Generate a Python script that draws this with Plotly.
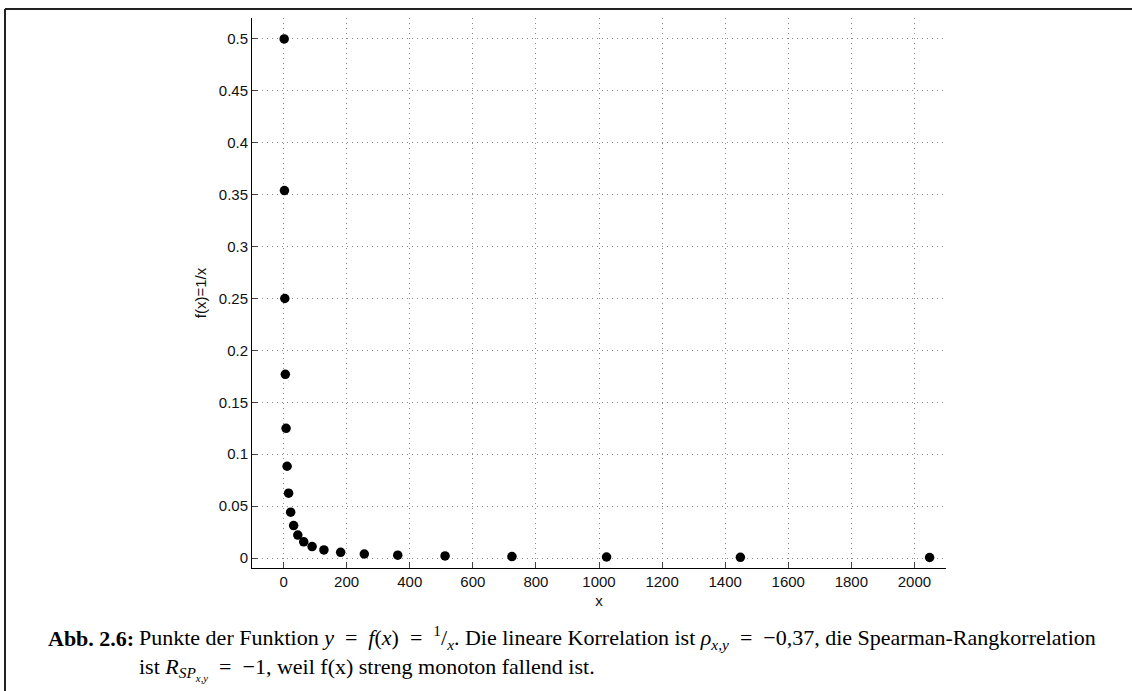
import plotly.graph_objects as go

x_vals = [2, 2.83, 4, 5.66, 8, 11.31, 16, 22.63, 32, 45.25, 64, 90.51, 128,
          181.02, 256, 362.04, 512, 724.08, 1024, 1448.15, 2048]
y_vals = [0.5, 0.354, 0.25, 0.177, 0.125, 0.0884, 0.0625, 0.0442, 0.0313,
          0.0221, 0.0156, 0.011, 0.0078, 0.0055, 0.0039, 0.0028, 0.002,
          0.0014, 0.001, 0.0007, 0.0005]
x_ticks = [0, 200, 400, 600, 800, 1000, 1200, 1400, 1600, 1800, 2000]
y_ticks = [0, 0.05, 0.1, 0.15, 0.2, 0.25, 0.3, 0.35, 0.4, 0.45, 0.5]
y_tick_text = ["0", "0.05", "0.1", "0.15", "0.2", "0.25", "0.3", "0.35", "0.4", "0.45", "0.5"]

W, H = 1132, 691
L, R, T, B = 252, 946, 18, 568
pw, ph = R - L, B - T

def px(xp):
    return (xp - L) / pw

def py(yp):
    return (B - yp) / ph

fig = go.Figure()
fig.add_trace(go.Scatter(
    x=x_vals, y=y_vals, mode="markers",
    marker=dict(color="black", size=9.5, line=dict(width=0)),
    showlegend=False, cliponaxis=False,
))

axis_font = dict(family="Liberation Sans, Arial, sans-serif", size=15, color="#111")
grid = dict(showgrid=True, gridcolor="#8c8c8c", griddash="1px,4px", gridwidth=1)
fig.update_xaxes(
    range=[-100, 2100], tickvals=x_ticks, ticks="inside", ticklen=6,
    tickcolor="#444", showline=True, linecolor="black", linewidth=1,
    zeroline=False, tickfont=axis_font, **grid,
    title=dict(text="x", font=axis_font, standoff=6),
)
fig.update_yaxes(
    range=[-0.0096, 0.5202], tickvals=y_ticks, ticktext=y_tick_text,
    ticks="inside", ticklen=6,
    tickcolor="#444", showline=True, linecolor="black", linewidth=1,
    zeroline=False, tickfont=axis_font, **grid,
    title=dict(text="f(x)=1/x", font=axis_font, standoff=8),
)

# outer frame (top and left edges)
fig.add_shape(type="line", xref="paper", yref="paper",
              x0=px(5), x1=px(1140), y0=py(9), y1=py(9),
              line=dict(color="#222", width=2))
fig.add_shape(type="line", xref="paper", yref="paper",
              x0=px(5), x1=px(5), y0=py(9), y1=py(700),
              line=dict(color="#222", width=2))

EQ = "\u2002=\u2002"
cap_font = dict(family="Liberation Serif, Times New Roman, serif", size=22, color="black")
fig.add_annotation(xref="paper", yref="paper", x=px(46), y=py(638),
                   xanchor="left", yanchor="middle", showarrow=False,
                   text="<b>Abb. 2.6:</b>", font=cap_font)
fig.add_annotation(
    xref="paper", yref="paper", x=px(137), y=py(653),
    xanchor="left", yanchor="middle", showarrow=False, align="left",
    text=(f"Punkte der Funktion <i>y</i>{EQ}<i>f</i>(<i>x</i>){EQ}<sup>1</sup>/<sub><i>x</i></sub>. "
          f"Die lineare Korrelation ist <i>ρ</i><sub><i>x,y</i></sub>{EQ}−0,37, die Spearman-Rangkorrelation<br>"
          f"ist <i>R</i><sub><i>SP<sub>x,y</sub></i></sub>{EQ}−1, weil f(x) streng monoton fallend ist."),
    font=cap_font,
)

fig.update_layout(
    width=W, height=H,
    margin=dict(l=L, r=W - R, t=T, b=H - B),
    paper_bgcolor="white", plot_bgcolor="white",
)
fig.write_html("out.html")
